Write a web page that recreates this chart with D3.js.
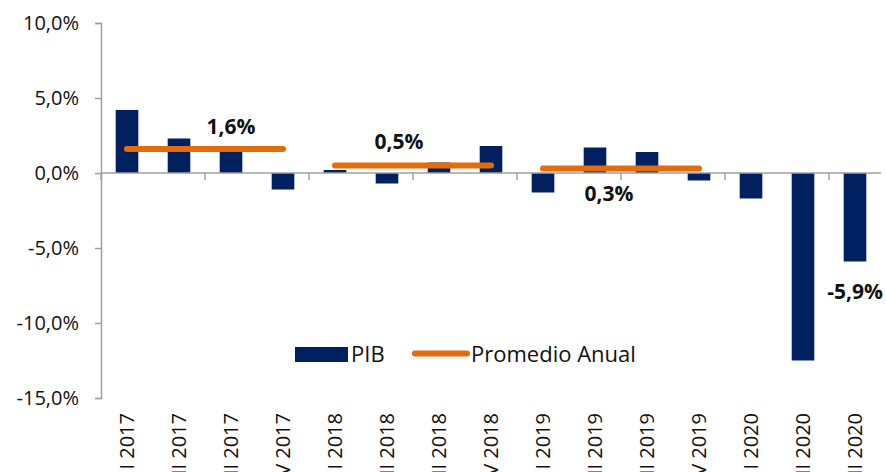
<!DOCTYPE html>
<html>
<head>
<meta charset="utf-8">
<script src="https://cdn.jsdelivr.net/npm/d3@7"></script>
<style>
  html, body { margin: 0; padding: 0; background: #fff; overflow: hidden; }
  svg { display: block; font-family: "Open Sans", "Noto Sans", sans-serif; }
</style>
</head>
<body>
<svg id="chart" width="886" height="472"></svg>
<script>
// ---- data ----
const categories = ["I 2017","II 2017","III 2017","IV 2017","I 2018","II 2018","III 2018","IV 2018",
                    "I 2019","II 2019","III 2019","IV 2019","I 2020","II 2020","III 2020"];
const pib = [4.2, 2.3, 1.4, -1.1, 0.2, -0.7, 0.7, 1.8, -1.3, 1.7, 1.4, -0.5, -1.7, -12.5, -5.9];
const years = ["2017","2018","2019"];
const promedioAnual = [1.6, 0.5, 0.3];
const promedioStart = ["I 2017","I 2018","I 2019"];
const promedioEnd = ["IV 2017","IV 2018","IV 2019"];
const yTicks = [10, 5, 0, -5, -10, -15];
const seriesNames = ["PIB", "Promedio Anual"];

// ---- layout ----
const svg = d3.select("#chart");
const mLeft = 101, mRight = 881, mTop = 23, mBottom = 398;
const navy = "#002060", orange = "#E46C0A", axisGray = "#A0A0A0";

const x = d3.scaleBand().domain(categories).range([mLeft, mRight]).paddingInner(0.565).paddingOuter(0.2825);
const y = d3.scaleLinear().domain([-15, 10]).range([mBottom, mTop]);
const cx = c => x(c) + x.bandwidth() / 2;
const locale = d3.formatLocale({decimal: ",", thousands: ".", grouping: [3], currency: ["", ""], minus: "-"});
const fmt = v => locale.format(".1f")(v) + "%";

// bars
svg.append("g").selectAll("rect").data(pib).join("rect")
  .attr("x", (d, i) => x(categories[i]))
  .attr("width", x.bandwidth())
  .attr("y", d => y(Math.max(0, d)))
  .attr("height", d => Math.abs(y(d) - y(0)))
  .attr("fill", navy);

// y axis
const yAxis = svg.append("g").attr("transform", `translate(${mLeft},0)`)
  .call(d3.axisLeft(y).tickValues(yTicks).tickSize(6).tickPadding(16).tickFormat(fmt));
yAxis.select(".domain").attr("stroke", axisGray).attr("stroke-width", 1.5);
yAxis.selectAll(".tick line").attr("stroke", axisGray).attr("stroke-width", 1.5);
yAxis.selectAll(".tick text").attr("font-size", 20).attr("fill", "#111")
  .attr("font-family", "'Open Sans', sans-serif");

// x axis at zero
const xTickVals = categories.filter((c, i) => i % 2 === 0);
const xAxisG = svg.append("g").attr("transform", `translate(0,${y(0)})`);
xAxisG.append("line").attr("x1", mLeft).attr("x2", mRight).attr("stroke", axisGray).attr("stroke-width", 1.5);
xAxisG.selectAll("line.tk").data(xTickVals).join("line").attr("class", "tk")
  .attr("x1", d => x(d) - x.step() * x.paddingOuter()).attr("x2", d => x(d) - x.step() * x.paddingOuter())
  .attr("y1", 0).attr("y2", 7).attr("stroke", axisGray).attr("stroke-width", 1.5);

// x labels (rotated, at the bottom; clipped by the frame as in the original)
svg.append("g").selectAll("text").data(categories).join("text")
  .attr("transform", d => `translate(${cx(d) + 7},413) rotate(-90)`)
  .attr("text-anchor", "end")
  .attr("font-size", 20).attr("fill", "#111")
  .text(d => d);

// annual average lines
svg.append("g").selectAll("line").data(promedioAnual).join("line")
  .attr("x1", (d, i) => cx(promedioStart[i]))
  .attr("x2", (d, i) => cx(promedioEnd[i]))
  .attr("y1", d => y(d)).attr("y2", d => y(d))
  .attr("stroke", orange).attr("stroke-width", 6).attr("stroke-linecap", "round");

// labels
const labelOffsets = [[0, -15], [-14, -17], [14, 32]];
const labelCats = ["III 2017", "III 2018", "II 2019"];
svg.append("g").selectAll("text").data(promedioAnual).join("text")
  .attr("x", (d, i) => (i === 1 ? (cx(promedioStart[i]) + cx(promedioEnd[i])) / 2 : cx(labelCats[i])) + labelOffsets[i][0])
  .attr("y", (d, i) => y(d) + labelOffsets[i][1])
  .attr("text-anchor", "middle").attr("font-size", 21).attr("font-weight", "bold").attr("fill", "#111")
  .text(d => fmt(d));

const lastIdx = pib.length - 1;
svg.append("text")
  .attr("x", cx(categories[lastIdx])).attr("y", y(pib[lastIdx]) + 37)
  .attr("text-anchor", "middle").attr("font-size", 21).attr("font-weight", "bold").attr("fill", "#111")
  .text(fmt(pib[lastIdx]));

// legend
const lg = svg.append("g");
lg.append("rect").attr("x", 295).attr("y", 347).attr("width", 53).attr("height", 15).attr("fill", navy);
lg.append("text").attr("x", 351).attr("y", 362).attr("font-size", 22).attr("fill", "#111").text(seriesNames[0]);
lg.append("line").attr("x1", 415).attr("x2", 467).attr("y1", 353.5).attr("y2", 353.5)
  .attr("stroke", orange).attr("stroke-width", 6).attr("stroke-linecap", "round");
lg.append("text").attr("x", 471).attr("y", 362).attr("font-size", 22).attr("fill", "#111").text(seriesNames[1]);
</script>
</body>
</html>
